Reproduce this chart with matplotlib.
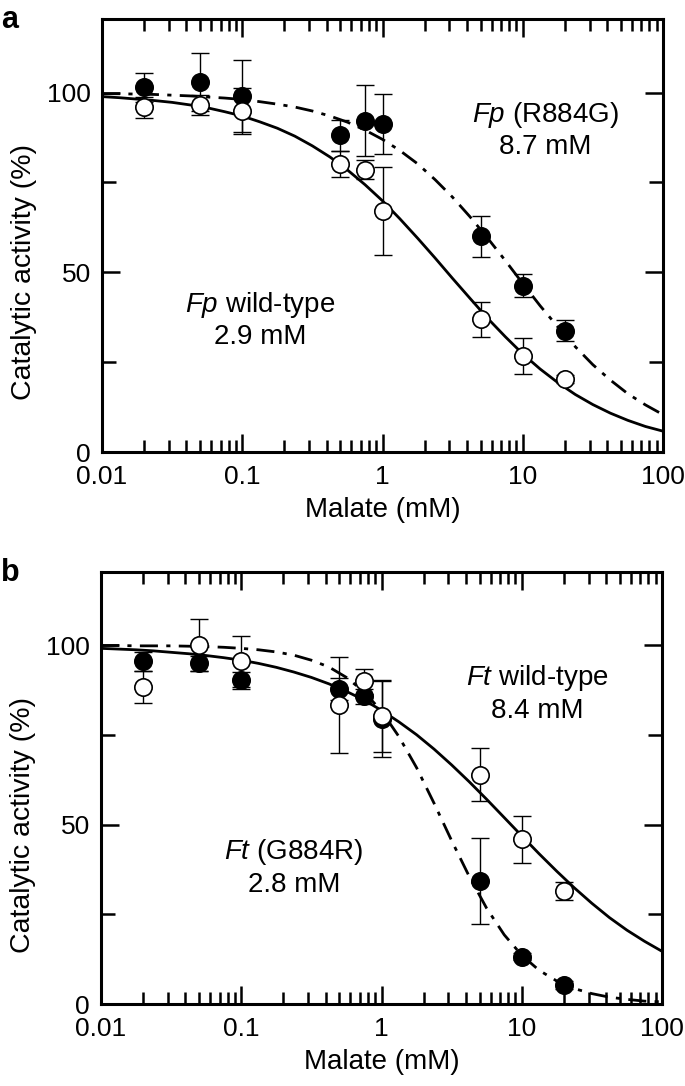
import matplotlib
matplotlib.use("Agg")
import matplotlib.pyplot as plt
from matplotlib.ticker import LogLocator, NullFormatter, FixedLocator

plt.rcParams['font.family'] = ['Liberation Sans', 'DejaVu Sans']
plt.rcParams['mathtext.fontset'] = 'custom'
plt.rcParams['mathtext.rm'] = 'Liberation Sans'
plt.rcParams['mathtext.it'] = 'Liberation Sans:italic'

# --- data ---
# panel a: Fp wild-type (open) and Fp R884G (filled)
malate_a = [0.02, 0.05, 0.1, 0.5, 0.75, 1, 5, 10, 20]
fp_wt = [95.9, 96.5, 94.9, 80.1, 78.6, 67.1, 36.9, 26.6, 20.3]
fp_wt_err = [3.0, 2.8, 6.5, 3.6, 2.7, 12.3, 4.8, 5.0, 1.0]
fp_mut = [101.5, 103.0, 99.0, 88.2, 92.2, 91.2, 60.1, 46.3, 33.8]
fp_mut_err = [4.0, 8.0, 10.0, 4.3, 9.9, 8.4, 5.7, 3.2, 3.0]

# panel b: Ft wild-type (open) and Ft G884R (filled)
malate_b = [0.02, 0.05, 0.1, 0.5, 0.75, 1, 5, 10, 20]
ft_wt = [88.4, 100.2, 95.6, 83.5, 90.0, 80.4, 64.0, 45.9, 31.5]
ft_wt_err = [4.5, 7.3, 7.1, 13.4, 3.4, 10.1, 7.3, 6.5, 2.4]
ft_mut = [95.6, 95.0, 90.3, 87.9, 85.8, 79.5, 34.3, 13.2, 5.3]
ft_mut_err = [2.6, 2.0, 2.4, 3.0, 2.0, 10.5, 12.0, 1.0, 1.0]

# fitted curves, read every eighth of a decade
curve_x = [0.01, 0.0133, 0.0178, 0.0237, 0.0316, 0.0422, 0.0562, 0.075,
           0.1, 0.133, 0.178, 0.237, 0.316, 0.422, 0.562, 0.75,
           1, 1.33, 1.78, 2.37, 3.16, 4.22, 5.62, 7.5,
           10, 13.3, 17.8, 23.7, 31.6, 42.2, 56.2, 75, 100]
fp_wt_fit = [98.9, 98.6, 98.2, 97.8, 97.3, 96.6, 95.8, 94.7,
             93.5, 91.9, 90.1, 87.9, 85.2, 82.1, 78.5, 74.4,
             69.9, 64.9, 59.5, 54.0, 48.3, 42.7, 37.2, 32.1,
             27.3, 23.1, 19.3, 16.0, 13.2, 10.8, 8.8, 7.1, 5.8]
fp_mut_fit = [99.7, 99.7, 99.6, 99.5, 99.3, 99.1, 98.8, 98.5,
              98.1, 97.5, 96.8, 96.0, 94.9, 93.5, 91.8, 89.6,
              87.0, 83.9, 80.2, 75.8, 70.9, 65.4, 59.5, 53.3,
              46.9, 40.7, 34.8, 29.3, 24.3, 20.0, 16.2, 13.1, 10.4]
ft_wt_fit = [99.2, 99.0, 98.8, 98.5, 98.1, 97.7, 97.2, 96.6,
             95.9, 95.0, 93.9, 92.6, 91.1, 89.3, 87.2, 84.8,
             81.9, 78.7, 75.1, 71.1, 66.7, 62.0, 57.1, 52.0,
             46.9, 41.9, 37.0, 32.4, 28.1, 24.1, 20.6, 17.5, 14.7]
ft_mut_fit = [100.0, 100.0, 99.9, 99.9, 99.9, 99.8, 99.7, 99.5,
              99.2, 98.8, 98.2, 97.3, 95.9, 94.0, 91.1, 87.1,
              81.7, 74.6, 65.9, 56.0, 45.6, 35.6, 26.7, 19.3,
              13.6, 9.4, 6.4, 4.3, 2.9, 1.9, 1.3, 0.8, 0.6]

xticks = [0.01, 0.1, 1, 10, 100]
xtick_labels = ['0.01', '0.1', '1', '10', '100']
yticks = [0, 50, 100]

panels = [
    dict(letter='a', x=malate_a, open_y=fp_wt, open_e=fp_wt_err,
         fill_y=fp_mut, fill_e=fp_mut_err, solid=fp_wt_fit, dashdot=fp_mut_fit,
         notes=[(14.4, 93.8, r'$\mathit{Fp}$ (R884G)'), (14.4, 84.8, '8.7 mM'),
                (0.135, 40.8, r'$\mathit{Fp}$ wild-type'), (0.135, 31.9, '2.9 mM')]),
    dict(letter='b', x=malate_b, open_y=ft_wt, open_e=ft_wt_err,
         fill_y=ft_mut, fill_e=ft_mut_err, solid=ft_wt_fit, dashdot=ft_mut_fit,
         notes=[(12.8, 91.0, r'$\mathit{Ft}$ wild-type'), (12.8, 81.6, '8.4 mM'),
                (0.237, 42.5, r'$\mathit{Ft}$ (G884R)'), (0.237, 33.1, '2.8 mM')]),
]

fig = plt.figure(figsize=(6.85, 10.86), dpi=100)
W, H = 685, 1086
boxes = [(102, 19, 663, 452), (101, 572, 662, 1004)]

for p, (l, t, r, b) in zip(panels, boxes):
    ax = fig.add_axes([l / W, 1 - b / H, (r - l) / W, (b - t) / H])
    ax.set_xscale('log')
    ax.set_xlim(0.01, 100)
    ax.set_ylim(0, 120.5)

    ax.plot(curve_x, p['solid'], color='k', lw=2.0, zorder=2)
    ax.plot(curve_x, p['dashdot'], color='k', lw=2.0, zorder=2,
            linestyle=(0, (6.5, 3, 1.5, 3)))

    ax.errorbar(p['x'], p['fill_y'], yerr=p['fill_e'], fmt='none', ecolor='k',
                elinewidth=1.0, capsize=6.5, capthick=1.0, zorder=3)
    ax.errorbar(p['x'], p['open_y'], yerr=p['open_e'], fmt='none', ecolor='k',
                elinewidth=1.0, capsize=6.5, capthick=1.0, zorder=3)
    ax.plot(p['x'], p['fill_y'], 'o', ms=12.5, mfc='k', mec='k', mew=1.2, zorder=4)
    ax.plot(p['x'], p['open_y'], 'o', ms=12.5, mfc='white', mec='k', mew=1.2, zorder=5)

    for x, y, s in p['notes']:
        ax.text(x, y, s, ha='center', va='center', fontsize=20)

    ax.set_xticks(xticks, labels=xtick_labels)
    ax.xaxis.set_minor_locator(LogLocator(base=10, subs=range(2, 10), numticks=20))
    ax.xaxis.set_minor_formatter(NullFormatter())
    ax.set_yticks(yticks)
    ax.yaxis.set_minor_locator(FixedLocator([25, 75]))

    ax.tick_params(which='both', direction='in', top=True, right=True, width=1.8,
                   labelsize=19)
    ax.tick_params(axis='x', which='major', length=13, pad=9)
    ax.tick_params(axis='x', which='minor', length=8.5)
    ax.tick_params(axis='y', which='major', length=13, pad=8)
    ax.tick_params(axis='y', which='minor', length=10)
    for sp in ax.spines.values():
        sp.set_linewidth(2.2)

    ax.set_xlabel('Malate (mM)', fontsize=20, labelpad=6)
    ax.set_ylabel('Catalytic activity (%)', fontsize=20.5)
    ax.yaxis.set_label_coords(-0.115, 50 / 120.5)

    fig.text(0.002, 1 - (t + 1) / H, p['letter'], fontsize=22, fontweight='bold',
             ha='left', va='center')

fig.savefig('out.png', dpi=100)
